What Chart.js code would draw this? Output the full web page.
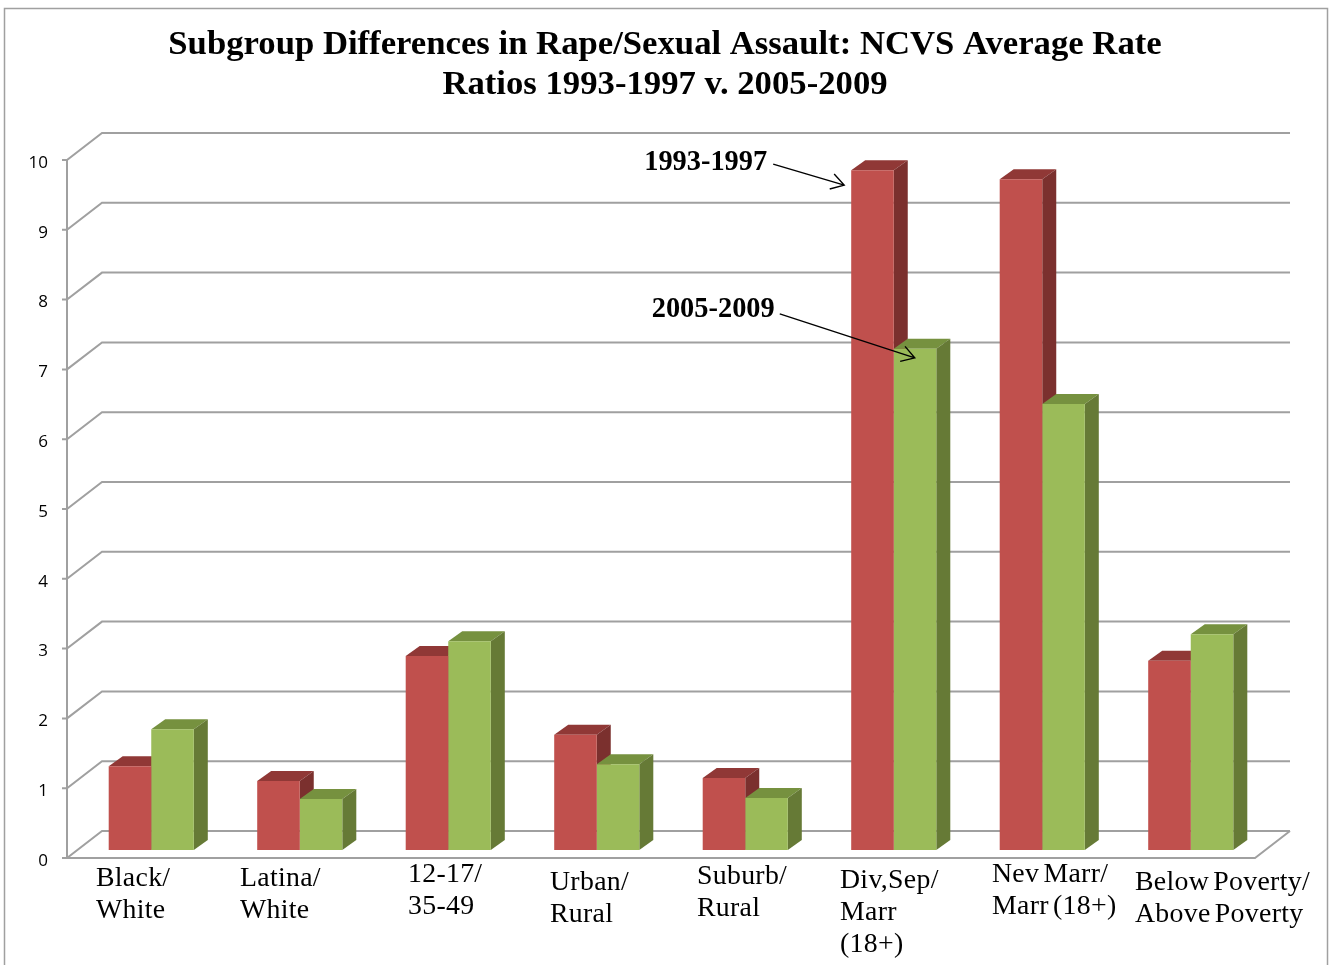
<!DOCTYPE html>
<html>
<head>
<meta charset="utf-8">
<title>Subgroup Differences in Rape/Sexual Assault</title>
<script src="https://cdn.jsdelivr.net/npm/chart.js@4/dist/chart.umd.min.js"></script>
<style>
  html, body { margin: 0; padding: 0; background: #fff; overflow: hidden; }
  canvas { display: block; }
</style>
</head>
<body>
<canvas id="myChart" width="1330" height="965"></canvas>
<script>
// subgroup names, one entry per line of the label
const categories = [
  ["Black/", "White"],
  ["Latina/", "White"],
  ["12-17/", "35-49"],
  ["Urban/", "Rural"],
  ["Suburb/", "Rural"],
  ["Div,Sep/", "Marr", "(18+)"],
  ["Nev Marr/", "Marr (18+)"],
  ["Below Poverty/", "Above Poverty"]
];
const early = [1.2, 0.99, 2.78, 1.65, 1.03, 9.74, 9.61, 2.71];
const late = [1.73, 0.73, 2.99, 1.23, 0.745, 7.18, 6.39, 3.09];
const titleLines = [
  "Subgroup Differences in Rape/Sexual Assault: NCVS Average Rate",
  "Ratios 1993-1997 v. 2005-2009"
];

// where each category label starts, and the centre of its first line
const labelX = [96, 240, 408, 550, 697, 840, 992, 1135];
const labelY = [879, 879, 875, 883, 877, 881, 875, 883];

const serif = "'Liberation Serif', 'Times New Roman', serif";
const gridColor = "#a0a0a0";

// the back wall sits up and to the right of the axis plane
const wall = { x: 35, y: -27 };
// bars stand a little way in from the front of the floor
const inset = { x: 10, y: -8 };
const depth = { x: 14, y: -10 };

const faces = [
  { top: "#903836", side: "#7b302e" },
  { top: "#76913f", side: "#667a36" }
];

function poly(ctx, pts, fill) {
  ctx.beginPath();
  ctx.moveTo(pts[0][0], pts[0][1]);
  for (let i = 1; i < pts.length; i++) ctx.lineTo(pts[i][0], pts[i][1]);
  ctx.closePath();
  ctx.fillStyle = fill;
  ctx.fill();
}

function arrow(ctx, x1, y1, x2, y2) {
  const a = Math.atan2(y2 - y1, x2 - x1);
  ctx.strokeStyle = "#000";
  ctx.lineWidth = 1.4;
  ctx.beginPath();
  ctx.moveTo(x1, y1);
  ctx.lineTo(x2, y2);
  ctx.moveTo(x2 - 15 * Math.cos(a - 0.55), y2 - 15 * Math.sin(a - 0.55));
  ctx.lineTo(x2, y2);
  ctx.lineTo(x2 - 15 * Math.cos(a + 0.55), y2 - 15 * Math.sin(a + 0.55));
  ctx.stroke();
}

const frame3d = {
  id: "frame3d",
  beforeDraw(chart) {
    const ctx = chart.ctx;
    const { left, right } = chart.chartArea;
    const yScale = chart.scales.y;

    // outer border of the figure, runs off the bottom of the page
    ctx.strokeStyle = "#a0a0a0";
    ctx.lineWidth = 1.5;
    ctx.strokeRect(4.5, 8.5, 1323, 1000);

    // title centred on the page, not on the plot
    ctx.fillStyle = "#000";
    ctx.font = "bold 34.7px " + serif;
    ctx.textAlign = "center";
    ctx.textBaseline = "middle";
    titleLines.forEach((line, i) => ctx.fillText(line, 665, 45 + i * 40));

    ctx.strokeStyle = gridColor;
    ctx.lineWidth = 2;
    yScale.ticks.forEach(t => {
      const y = yScale.getPixelForValue(t.value);
      ctx.beginPath();
      ctx.moveTo(left - 5, y);
      ctx.lineTo(left, y);
      ctx.lineTo(left + wall.x, y + wall.y);
      ctx.lineTo(right + wall.x, y + wall.y);
      ctx.stroke();
    });

    // left wall edge and the front and right edges of the floor
    const y0 = yScale.getPixelForValue(0);
    const y10 = yScale.getPixelForValue(10);
    ctx.beginPath();
    ctx.moveTo(left, y10);
    ctx.lineTo(left, y0);
    ctx.lineTo(right, y0);
    ctx.lineTo(right + wall.x, y0 + wall.y);
    ctx.stroke();

    // category labels, loose letters and narrow word gaps
    ctx.save();
    ctx.fillStyle = "#000";
    ctx.font = "27.8px " + serif;
    ctx.letterSpacing = "0.3px";
    ctx.wordSpacing = "-3px";
    ctx.textAlign = "left";
    categories.forEach((lines, i) => {
      lines.forEach((line, j) => ctx.fillText(line, labelX[i], labelY[i] + j * 32));
    });
    ctx.restore();
  },
  beforeDatasetsDraw(chart) {
    const ctx = chart.ctx;
    ctx.save();
    ctx.translate(inset.x, inset.y);

    // top and side of every bar first, the library paints the fronts over them
    categories.forEach((c, i) => {
      chart.data.datasets.forEach((ds, d) => {
        const bar = chart.getDatasetMeta(d).data[i];
        const l = bar.x - bar.width / 2;
        const r = bar.x + bar.width / 2;
        poly(ctx, [[l, bar.y], [l + depth.x, bar.y + depth.y], [r + depth.x, bar.y + depth.y], [r, bar.y]], faces[d].top);
        poly(ctx, [[r, bar.y], [r + depth.x, bar.y + depth.y], [r + depth.x, bar.base + depth.y], [r, bar.base]], faces[d].side);
      });
    });
  },
  afterDatasetsDraw(chart) {
    const ctx = chart.ctx;
    ctx.restore();

    // callouts pointing at the divorced/separated pair
    const red = chart.getDatasetMeta(0).data[5];
    const green = chart.getDatasetMeta(1).data[5];
    const redLeft = red.x - red.width / 2 + inset.x;
    const greenLeft = green.x - green.width / 2 + inset.x;
    const redTop = red.y + inset.y;
    const greenTop = green.y + inset.y;

    ctx.fillStyle = "#000";
    ctx.font = "bold 28.4px " + serif;
    ctx.textAlign = "right";
    ctx.textBaseline = "middle";
    ctx.fillText("1993-1997", redLeft - 84, redTop - 7);
    ctx.fillText("2005-2009", greenLeft - 119, greenTop - 39);
    arrow(ctx, redLeft - 78, redTop - 6, redLeft - 7, redTop + 15);
    arrow(ctx, greenLeft - 114, greenTop - 35, greenLeft + 21, greenTop + 9);
  }
};

new Chart(document.getElementById("myChart"), {
  type: "bar",
  data: {
    labels: categories,
    datasets: [
      { label: "1993-1997", data: early, backgroundColor: "#c0504d" },
      { label: "2005-2009", data: late, backgroundColor: "#9bbb59" }
    ]
  },
  options: {
    responsive: false,
    animation: false,
    layout: { padding: { left: 0, right: 75, top: 160, bottom: 0 } },
    datasets: { bar: { categoryPercentage: 0.573, barPercentage: 1, clip: false } },
    plugins: {
      legend: { display: false },
      tooltip: { enabled: false }
    },
    scales: {
      x: {
        grid: { display: false },
        border: { display: false },
        ticks: { display: false },
        afterFit(scale) { scale.height = 107; }
      },
      y: {
        min: 0,
        max: 10,
        grid: { display: false, drawTicks: false },
        border: { display: false },
        ticks: {
          stepSize: 1,
          padding: 19,
          labelOffset: 3,
          color: "#000",
          font: { family: "'Open Sans', sans-serif", size: 17 }
        },
        afterFit(scale) { scale.width = 67; }
      }
    }
  },
  plugins: [frame3d]
});
</script>
</body>
</html>
